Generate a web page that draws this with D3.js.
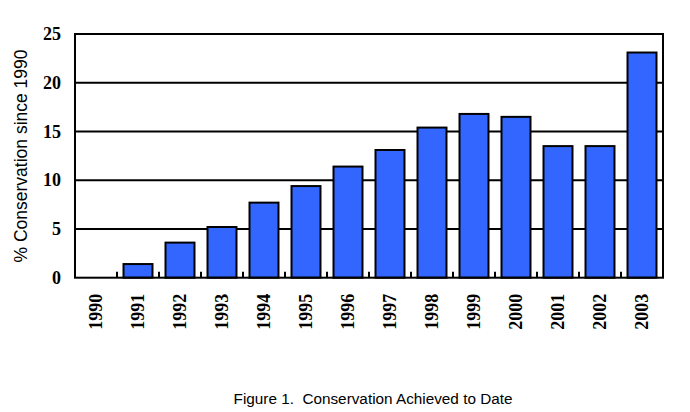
<!DOCTYPE html>
<html><head><meta charset="utf-8">
<script src="https://cdn.jsdelivr.net/npm/d3@7"></script>
<style>body{margin:0;background:#fff;} svg{display:block;}</style>
</head><body>
<svg id="c" width="690" height="412"></svg>
<script>
const years = ["1990","1991","1992","1993","1994","1995","1996","1997","1998","1999","2000","2001","2002","2003"];
const values = [0, 1.4, 3.6, 5.2, 7.7, 9.4, 11.4, 13.1, 15.4, 16.8, 16.5, 13.5, 13.5, 23.1];
const yTicks = [0, 5, 10, 15, 20, 25];
const yTitle = "% Conservation since 1990";
const caption = "Figure 1.  Conservation Achieved to Date";

const svg = d3.select("#c");
const m = {left: 75, right: 663, top: 34, bottom: 277.7};
const x = d3.scaleBand().domain(years).range([m.left, m.right]).paddingInner(0.31).paddingOuter(0.155);
const y = d3.scaleLinear().domain([0, 25]).range([m.bottom, m.top]);
const serif = "'Liberation Serif','Times New Roman',serif";
const sans = "'Liberation Sans',Arial,sans-serif";

// gridlines
svg.append("g").selectAll("line").data(yTicks.filter(d => d > 0 && d < 25)).join("line")
  .attr("x1", m.left).attr("x2", m.right).attr("y1", d => y(d)).attr("y2", d => y(d))
  .attr("stroke", "#000").attr("stroke-width", 2);

// bars
const barData = values.map((v, i) => ({k: years[i], v})).filter(d => d.v > 0);
svg.append("g").selectAll("rect").data(barData).join("rect")
  .attr("x", d => x(d.k)).attr("width", x.bandwidth())
  .attr("y", d => y(d.v)).attr("height", d => y(0) - y(d.v))
  .attr("fill", "#3366FF").attr("stroke", "#000").attr("stroke-width", 2);

// category boundary ticks
const step = x.step();
svg.append("g").selectAll("line").data(years.slice(1)).join("line")
  .attr("x1", d => x(d) - step * x.paddingInner() / 2).attr("x2", d => x(d) - step * x.paddingInner() / 2)
  .attr("y1", m.bottom).attr("y2", m.bottom - 6)
  .attr("stroke", "#000").attr("stroke-width", 2);

// frame
svg.append("rect").attr("x", m.left).attr("y", m.top).attr("width", m.right - m.left).attr("height", m.bottom - m.top)
  .attr("fill", "none").attr("stroke", "#000").attr("stroke-width", 2);

// y axis labels
const yAxis = d3.axisLeft(y).tickValues(yTicks).tickSize(0).tickPadding(14);
const gy = svg.append("g").attr("transform", `translate(${m.left},0)`).call(yAxis);
gy.select(".domain").remove();
gy.selectAll("text").attr("font-family", serif).attr("font-weight", "bold").attr("font-size", 18).attr("fill", "#000");

// x axis labels
const xAxis = d3.axisBottom(x).tickSize(0).tickPadding(0);
const gx = svg.append("g").attr("transform", `translate(0,${m.bottom})`).call(xAxis);
gx.select(".domain").remove();
gx.selectAll("text")
  .attr("font-family", serif).attr("font-weight", "bold").attr("font-size", 18).attr("fill", "#000")
  .attr("transform", "rotate(-90)").attr("text-anchor", "end")
  .attr("x", -16).attr("y", 0).attr("dy", "0.32em");

// y title
svg.append("text").attr("transform", "translate(27,156) rotate(-90)")
  .attr("text-anchor", "middle").attr("font-family", sans).attr("font-size", 17.5).text(yTitle);

// caption
svg.append("text").attr("x", 373).attr("y", 404).attr("text-anchor", "middle")
  .attr("font-family", sans).attr("font-size", 15.3).style("white-space", "pre").text(caption);
</script>
</body></html>
